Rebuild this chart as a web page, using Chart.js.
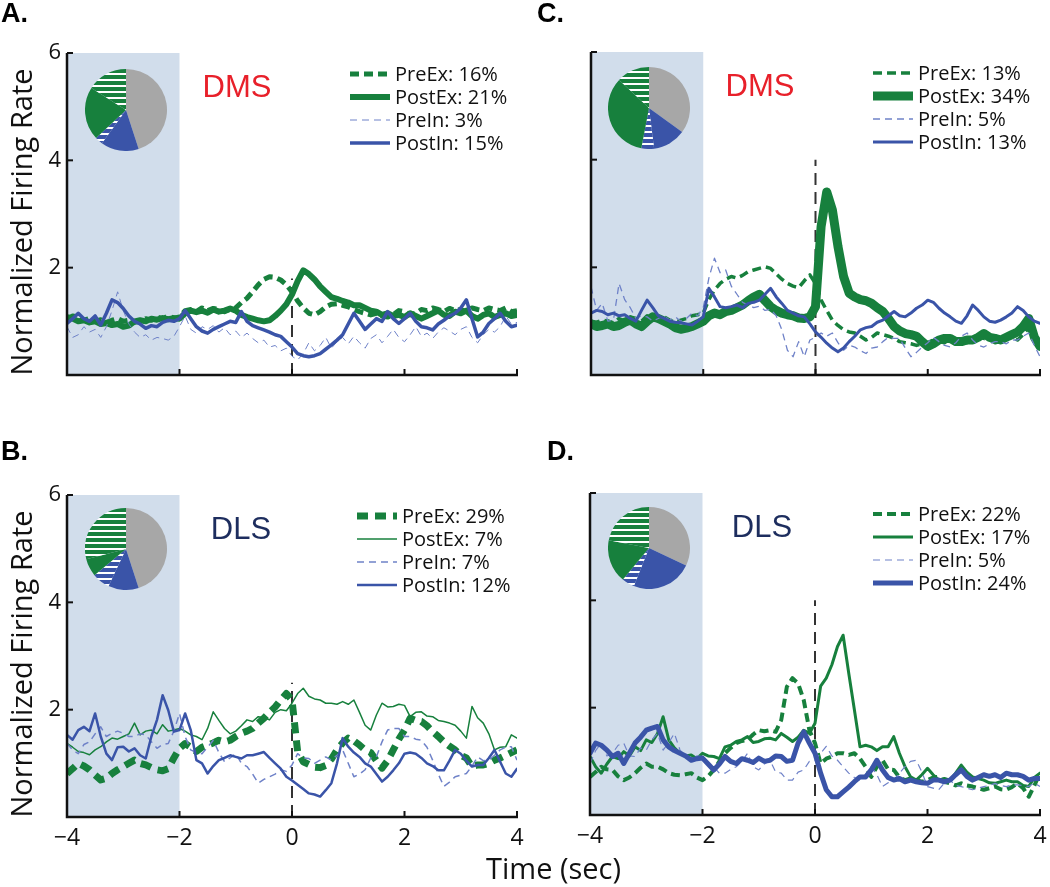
<!DOCTYPE html>
<html>
<head>
<meta charset="utf-8">
<script src="https://cdn.jsdelivr.net/npm/chart.js@4.4.1/dist/chart.umd.min.js"></script>
<style>
  body { margin: 0; background: #fff; width: 1050px; height: 887px; position: relative; overflow: hidden; }
  canvas { position: absolute; }
  .letter { position: absolute; font: bold 27px "Liberation Sans", Arial, sans-serif; color: #000; }
  #xTitle { position: absolute; left: 486px; top: 848px; font: 29px "Open Sans", sans-serif; color: #111; white-space: nowrap; }
</style>
</head>
<body>
<canvas id="chartA" width="525" height="440" style="left:0;top:0"></canvas>
<canvas id="chartC" width="525" height="440" style="left:525px;top:0"></canvas>
<canvas id="chartB" width="525" height="447" style="left:0;top:440px"></canvas>
<canvas id="chartD" width="525" height="447" style="left:525px;top:440px"></canvas>
<canvas id="pieA" width="82" height="82" style="left:85px;top:69px"></canvas>
<canvas id="pieC" width="82" height="82" style="left:608px;top:67px"></canvas>
<canvas id="pieB" width="82" height="82" style="left:85px;top:508px"></canvas>
<canvas id="pieD" width="82" height="82" style="left:608px;top:507px"></canvas>
<div class="letter" style="left:1px;top:-2px">A.</div>
<div class="letter" style="left:537px;top:-2px">C.</div>
<div class="letter" style="left:1px;top:436px">B.</div>
<div class="letter" style="left:547px;top:436px">D.</div>
<div id="xTitle">Time (sec)</div>
<script>
// time bins (sec)
const timeSec = [
  -4.0,-3.9,-3.8,-3.7,-3.6,-3.5,-3.4,-3.3,-3.2,-3.1,
  -3.0,-2.9,-2.8,-2.7,-2.6,-2.5,-2.4,-2.3,-2.2,-2.1,
  -2.0,-1.9,-1.8,-1.7,-1.6,-1.5,-1.4,-1.3,-1.2,-1.1,
  -1.0,-0.9,-0.8,-0.7,-0.6,-0.5,-0.4,-0.3,-0.2,-0.1,
  0.0,0.1,0.2,0.3,0.4,0.5,0.6,0.7,0.8,0.9,
  1.0,1.1,1.2,1.3,1.4,1.5,1.6,1.7,1.8,1.9,
  2.0,2.1,2.2,2.3,2.4,2.5,2.6,2.7,2.8,2.9,
  3.0,3.1,3.2,3.3,3.4,3.5,3.6,3.7,3.8,3.9,
  4.0
];
const seriesNames = ['PreEx', 'PostEx', 'PreIn', 'PostIn'];
const xTicks = [-4, -2, 0, 2, 4];
const yTicks = [0, 2, 4, 6];

// A. DMS
const aPreEx = [
  1.05,1.1,1.08,1.02,1.05,1.0,1.03,0.98,1.02,1.05,
  1.0,1.02,0.98,1.0,1.05,1.02,1.08,1.05,1.1,1.06,
  1.08,1.2,1.22,1.18,1.25,1.2,1.24,1.22,1.18,1.22,
  1.25,1.35,1.43,1.55,1.68,1.78,1.83,1.82,1.77,1.68,
  1.55,1.38,1.25,1.15,1.12,1.18,1.27,1.32,1.33,1.3,
  1.27,1.22,1.18,1.15,1.12,1.15,1.1,1.08,1.12,1.2,
  1.18,1.12,1.15,1.22,1.2,1.25,1.22,1.18,1.24,1.2,
  1.22,1.18,1.25,1.22,1.2,1.25,1.22,1.2,1.25,1.18,
  1.2];
const aPostEx = [
  1.08,1.05,1.0,1.02,0.98,1.0,0.95,0.97,0.93,0.95,
  0.9,0.92,1.0,1.02,1.0,1.05,1.03,1.06,1.04,1.06,
  1.05,1.15,1.2,1.17,1.2,1.16,1.22,1.18,1.2,1.24,
  1.2,1.12,1.08,1.05,1.02,1.0,1.02,1.1,1.2,1.32,
  1.5,1.75,1.95,1.88,1.78,1.65,1.55,1.45,1.42,1.38,
  1.35,1.3,1.3,1.25,1.2,1.18,1.12,1.15,1.1,1.12,
  1.08,1.15,1.1,1.05,1.1,1.15,1.2,1.12,1.1,1.18,
  1.15,1.2,1.1,1.05,1.12,1.15,1.08,1.12,1.15,1.1,
  1.12];
const aPreIn = [
  0.9,0.7,0.75,0.9,0.8,0.85,0.7,0.9,1.2,1.55,
  1.2,0.95,0.8,0.7,0.75,0.65,0.7,0.68,0.65,0.72,
  0.9,1.1,0.85,0.78,0.9,0.85,0.92,0.8,0.88,0.75,
  0.82,0.7,0.78,0.68,0.6,0.65,0.52,0.55,0.45,0.5,
  0.35,0.28,0.4,0.6,0.45,0.55,0.7,0.5,0.62,0.7,
  0.58,0.72,0.6,0.5,0.68,0.75,0.6,0.72,0.85,0.7,
  0.62,0.75,0.9,0.72,0.78,0.68,0.8,0.88,0.82,0.75,
  0.85,0.9,0.7,0.6,0.75,0.85,0.8,0.9,1.1,0.95,
  0.98];
const aPostIn = [
  0.96,1.05,1.15,1.05,1.0,1.1,0.93,1.15,1.4,1.35,
  1.24,1.1,1.0,0.95,0.87,0.92,0.9,0.98,1.02,1.0,
  1.05,1.2,1.05,0.9,0.82,0.78,0.85,0.9,0.95,1.0,
  0.98,1.18,1.0,0.92,0.88,0.84,0.8,0.75,0.72,0.62,
  0.52,0.4,0.36,0.34,0.36,0.4,0.48,0.56,0.65,0.75,
  0.95,1.15,1.0,0.85,0.95,1.05,1.0,1.18,1.05,0.96,
  1.05,1.15,1.0,0.9,0.88,0.84,0.95,1.02,1.1,1.15,
  1.25,1.4,1.05,0.71,0.8,0.96,1.05,1.15,1.0,0.9,
  0.93];
const aPct = [16, 21, 3, 15];
const aOther = 45;

// C. DMS
const cPreEx = [
  1.0,0.98,1.02,1.0,0.97,1.05,1.0,1.08,1.05,1.0,
  1.1,1.05,1.0,1.08,1.02,0.98,1.02,1.05,1.1,1.12,
  1.15,1.4,1.58,1.7,1.78,1.83,1.8,1.85,1.92,1.95,
  1.98,2.01,1.98,1.88,1.78,1.7,1.65,1.62,1.75,1.86,
  1.7,1.39,1.2,1.02,0.92,0.84,0.8,0.78,0.72,0.65,
  0.7,0.78,0.75,0.72,0.68,0.62,0.6,0.58,0.55,0.58,
  0.6,0.65,0.62,0.6,0.65,0.68,0.62,0.6,0.65,0.7,
  0.68,0.65,0.6,0.62,0.68,0.7,0.65,0.75,0.88,0.7,
  0.6];
const cPostEx = [
  0.95,0.9,0.92,0.95,0.9,0.92,0.98,1.02,0.95,0.9,
  1.0,1.08,1.05,1.0,0.95,0.88,0.85,0.87,0.9,0.95,
  1.0,1.1,1.15,1.12,1.18,1.2,1.25,1.3,1.38,1.45,
  1.5,1.38,1.27,1.2,1.15,1.12,1.1,1.06,1.05,1.08,
  1.27,2.76,3.4,3.07,2.39,1.83,1.52,1.45,1.4,1.38,
  1.33,1.25,1.18,1.05,0.9,0.82,0.77,0.75,0.72,0.62,
  0.53,0.58,0.65,0.68,0.68,0.62,0.62,0.65,0.65,0.7,
  0.77,0.7,0.68,0.65,0.7,0.75,0.8,0.9,1.05,0.7,
  0.53];
const cPreIn = [
  1.64,1.2,1.33,1.0,1.02,1.7,1.4,1.25,1.05,1.1,
  1.08,1.0,1.05,1.1,1.02,1.08,1.0,1.05,1.15,1.1,
  1.25,1.8,2.17,1.9,1.95,1.65,1.5,1.35,1.3,1.25,
  1.28,1.2,1.22,1.1,0.84,0.46,0.34,0.62,0.34,0.65,
  0.7,0.78,0.72,0.78,0.6,0.46,0.55,0.52,0.45,0.4,
  0.5,0.52,0.62,0.7,0.68,0.68,0.5,0.34,0.42,0.52,
  0.6,0.7,0.62,0.55,0.52,0.6,0.72,0.78,0.65,0.55,
  0.52,0.58,0.62,0.62,0.58,0.65,0.65,0.72,0.78,0.55,
  0.34];
const cPostIn = [
  1.15,1.2,1.18,1.12,1.15,1.1,1.12,1.05,1.0,1.2,
  1.39,1.25,1.1,1.05,1.0,0.98,0.97,0.95,0.93,1.0,
  1.08,1.61,1.45,1.27,1.25,1.27,1.3,1.25,1.33,1.35,
  1.39,1.5,1.61,1.45,1.33,1.2,1.15,1.1,1.08,0.95,
  0.8,0.7,0.59,0.5,0.43,0.5,0.62,0.72,0.84,0.88,
  0.9,0.98,1.02,1.1,1.18,1.1,1.08,1.15,1.24,1.3,
  1.39,1.35,1.24,1.15,1.08,1.0,0.96,1.1,1.3,1.2,
  1.08,1.0,0.98,1.02,1.08,1.15,1.27,1.2,1.08,1.0,
  0.96];
const cPct = [13, 34, 5, 13];
const cOther = 35;

// B. DLS
const bPreEx = [
  0.81,0.9,1.0,0.95,0.88,0.78,0.69,0.72,0.81,0.88,
  0.94,1.0,1.06,1.0,0.97,0.92,0.88,0.86,0.9,1.1,
  1.28,1.37,1.3,1.22,1.3,1.34,1.38,1.43,1.4,1.43,
  1.5,1.56,1.6,1.65,1.75,1.84,1.95,2.05,2.18,2.3,
  2.18,1.22,1.03,0.98,0.93,0.92,0.96,1.08,1.25,1.38,
  1.47,1.42,1.34,1.25,1.2,1.05,0.91,1.05,1.25,1.45,
  1.62,1.84,1.8,1.78,1.7,1.59,1.5,1.4,1.32,1.25,
  1.15,1.1,0.94,0.97,0.97,1.0,1.06,1.1,1.15,1.2,
  1.25];
const bPostEx = [
  1.37,1.3,1.22,1.2,1.16,1.25,1.31,1.4,1.47,1.45,
  1.5,1.55,1.75,1.53,1.6,1.62,1.55,1.72,1.6,1.62,
  1.65,1.6,1.53,1.5,1.44,1.65,1.96,1.8,1.65,1.55,
  1.6,1.7,1.81,1.78,1.87,1.85,1.81,1.95,2.0,1.98,
  2.12,2.3,2.4,2.25,2.2,2.18,2.12,2.12,2.1,2.15,
  2.1,2.18,1.95,1.71,1.62,1.9,2.12,2.05,2.06,2.1,
  2.08,1.87,1.95,1.96,1.88,1.87,1.8,1.78,1.75,1.71,
  1.6,1.47,2.06,1.85,1.75,1.55,1.25,1.3,1.31,1.53,
  1.47];
const bPreIn = [
  1.37,1.25,1.18,1.35,1.4,1.55,1.68,1.5,1.56,1.6,
  1.56,1.5,1.5,1.55,1.53,1.4,1.28,1.35,1.37,1.6,
  1.93,1.5,1.25,1.2,1.18,1.3,1.43,1.2,1.03,1.1,
  1.18,1.0,0.94,0.8,0.63,0.7,0.75,0.8,0.88,0.85,
  0.97,1.18,1.1,1.09,1.0,1.06,1.12,1.06,1.15,1.25,
  1.0,0.75,0.8,0.88,1.1,1.12,1.4,1.62,1.65,1.65,
  1.5,1.5,1.45,1.43,1.3,1.06,0.8,0.57,0.65,0.75,
  0.78,0.81,0.95,1.12,1.05,1.06,1.15,1.25,1.3,1.31,
  1.06];
const bPostIn = [
  1.53,1.44,1.62,1.68,1.6,1.93,1.5,1.18,1.06,1.3,
  1.31,1.22,1.28,1.15,1.09,1.5,1.81,2.27,1.99,1.59,
  1.62,1.93,1.62,1.06,1.0,0.81,0.95,1.06,1.1,1.15,
  1.12,1.09,1.15,1.15,1.18,1.21,1.1,1.0,0.9,0.75,
  0.68,0.6,0.52,0.44,0.42,0.38,0.5,0.63,1.0,1.47,
  1.31,1.2,1.12,1.0,0.94,0.8,0.66,0.75,0.87,1.0,
  1.18,1.2,1.18,1.1,1.0,0.95,0.87,0.87,1.05,1.25,
  1.18,1.05,0.94,0.97,0.97,1.1,1.25,1.03,0.81,0.75,
  0.9];
const bPct = [29, 7, 7, 12];
const bOther = 45;

// D. DLS
const dPreEx = [
  0.71,0.8,0.9,0.85,0.84,0.72,0.65,0.7,0.78,0.88,
  0.96,0.9,0.9,0.85,0.78,0.75,0.74,0.76,0.78,0.7,
  0.65,0.72,0.84,1.0,1.15,1.25,1.34,1.38,1.4,1.5,
  1.58,1.56,1.58,1.55,1.77,2.39,2.55,2.45,2.14,1.58,
  1.34,0.96,1.05,1.09,1.15,1.15,1.12,1.15,1.05,0.9,
  0.71,0.9,1.02,0.85,0.84,0.7,0.65,0.68,0.65,0.62,
  0.65,0.7,0.71,0.62,0.59,0.55,0.59,0.55,0.53,0.5,
  0.47,0.5,0.53,0.48,0.47,0.52,0.59,0.5,0.34,0.55,
  0.78];
const dPostEx = [
  1.09,0.9,0.78,0.95,1.09,1.05,1.18,1.1,1.27,1.2,
  1.4,1.35,1.52,1.83,1.4,1.25,1.15,1.1,1.12,1.05,
  1.15,1.1,1.09,1.05,1.27,1.3,1.37,1.4,1.46,1.35,
  1.37,1.42,1.43,1.4,1.52,1.45,1.37,1.45,1.58,1.52,
  1.71,2.4,2.55,2.8,3.14,3.35,2.64,1.96,1.27,1.3,
  1.27,1.2,1.27,1.27,1.46,1.15,0.9,0.71,0.65,0.75,
  0.87,0.75,0.65,0.68,0.65,0.78,0.93,0.8,0.71,0.68,
  0.65,0.6,0.59,0.62,0.65,0.62,0.62,0.55,0.53,0.7,
  0.78];
const dPreIn = [
  0.96,1.2,1.34,1.1,1.15,1.3,1.34,1.1,1.09,1.25,
  1.21,1.4,1.52,1.21,1.35,1.52,1.21,1.1,1.02,1.1,
  1.09,0.95,0.9,0.78,0.78,0.85,0.9,1.0,1.15,0.9,
  0.84,0.95,1.02,0.8,0.78,0.65,0.65,0.8,0.84,1.0,
  1.02,1.15,1.28,1.1,1.02,0.9,0.78,0.7,0.65,0.75,
  0.9,0.75,0.53,0.6,0.65,0.78,0.9,1.0,1.02,0.8,
  0.53,0.5,0.47,0.6,0.65,0.55,0.53,0.5,0.47,0.5,
  0.53,0.55,0.59,0.55,0.53,0.56,0.56,0.55,0.53,0.6,
  0.53];
const dPostIn = [
  1.15,1.34,1.3,1.21,1.09,1.15,0.96,1.15,1.34,1.45,
  1.58,1.62,1.65,1.4,1.27,1.2,1.15,1.1,1.02,1.05,
  1.06,0.95,0.84,0.95,1.09,1.0,0.96,1.05,1.02,0.98,
  1.06,1.0,1.02,1.1,1.09,1.0,1.02,1.34,1.55,1.34,
  1.15,0.78,0.47,0.34,0.34,0.43,0.52,0.62,0.71,0.71,
  0.84,1.02,0.84,0.7,0.65,0.68,0.62,0.65,0.62,0.6,
  0.59,0.65,0.65,0.62,0.65,0.75,0.84,0.72,0.65,0.7,
  0.75,0.72,0.75,0.7,0.78,0.75,0.75,0.72,0.65,0.68,
  0.68];
const dPct = [22, 17, 5, 24];
const dOther = 32;

const GREEN = '#17803d';
const BLUE = '#3a54a8';
const BLUE_LIGHT = '#6f82c8';
const GREY = '#a7a7a7';
const SHADE = '#d1ddeb';
const FONT = '"Open Sans", sans-serif';

// draws baseline shading, event line, axes, region label and legend
const panelDecor = {
  id: 'panelDecor',
  beforeDatasetsDraw(chart, args, o) {
    const { ctx, scales: { x, y } } = chart;
    ctx.save();
    ctx.fillStyle = SHADE;
    const x0 = x.getPixelForValue(-4), x1 = x.getPixelForValue(-2);
    const yTop = y.getPixelForValue(6), yBot = y.getPixelForValue(0);
    ctx.fillRect(x0, yTop, x1 - x0, yBot - yTop);
    ctx.strokeStyle = '#333';
    ctx.lineWidth = 2;
    ctx.setLineDash([12, 7]);
    ctx.beginPath();
    ctx.moveTo(x.getPixelForValue(0), yBot);
    ctx.lineTo(x.getPixelForValue(0), y.getPixelForValue(o.eventTop));
    ctx.stroke();
    ctx.restore();
  },
  afterDatasetsDraw(chart) {
    const { ctx, scales: { x, y } } = chart;
    const xl = x.getPixelForValue(-4), xr = x.getPixelForValue(4);
    const yb = y.getPixelForValue(0), yt = y.getPixelForValue(6);
    ctx.save();
    ctx.strokeStyle = '#111';
    ctx.lineWidth = 2.5;
    ctx.beginPath();
    ctx.moveTo(xl, yt); ctx.lineTo(xl, yb); ctx.lineTo(xr + 1, yb);
    ctx.stroke();
    ctx.lineWidth = 2;
    yTicks.forEach(v => {
      const py = y.getPixelForValue(v);
      ctx.beginPath(); ctx.moveTo(xl, py); ctx.lineTo(xl + 6, py); ctx.stroke();
    });
    xTicks.forEach(v => {
      const px = x.getPixelForValue(v);
      ctx.beginPath(); ctx.moveTo(px, yb); ctx.lineTo(px, yb - 6); ctx.stroke();
    });
    ctx.restore();
  },
  afterDraw(chart, args, o) {
    const { ctx, chartArea: a } = chart;
    ctx.save();
    // region label
    ctx.fillStyle = o.regionColor;
    ctx.font = '31px "Liberation Sans", Arial, sans-serif';
    ctx.textAlign = 'center';
    ctx.textBaseline = 'middle';
    ctx.fillText(o.region, a.left + o.regionDx, a.top + 35);
    // legend
    ctx.font = '20px ' + FONT;
    ctx.textAlign = 'left';
    chart.data.datasets.forEach((ds, i) => {
      const ry = a.top + 21 + i * 23;
      const lx = a.left + o.legendDx;
      ctx.strokeStyle = ds.borderColor;
      ctx.lineWidth = ds.borderWidth;
      ctx.setLineDash(ds.borderDash || []);
      ctx.beginPath(); ctx.moveTo(lx, ry); ctx.lineTo(lx + 40, ry); ctx.stroke();
      ctx.fillStyle = '#111';
      ctx.fillText(ds.label + ': ' + o.pct[i] + '%', lx + 45, ry + 1);
    });
    ctx.setLineDash([]);
    // y title
    if (o.yTitle) {
      ctx.translate(32, (a.top + a.bottom) / 2 + 8);
      ctx.rotate(-Math.PI / 2);
      ctx.font = '29px ' + FONT;
      ctx.textAlign = 'center';
      ctx.textBaseline = 'alphabetic';
      ctx.fillStyle = '#111';
      ctx.fillText('Normalized Firing Rate', 0, 0);
    }
    ctx.restore();
  }
};

function makePanel(id, p) {
  const mk = (i, data) => ({
    label: seriesNames[i],
    data: data,
    borderColor: i < 2 ? GREEN : (i === 2 ? BLUE_LIGHT : BLUE),
    borderWidth: p.widths[i],
    borderDash: i === 0 ? p.preExDash : (i === 2 ? [7, 5] : undefined),
    borderCapStyle: (i === 0 || i === 2) ? 'butt' : 'round',
    borderJoinStyle: 'round',
    order: [3, 4, 2, 1][i],
    pointRadius: 0,
    tension: 0,
    fill: false
  });
  new Chart(document.getElementById(id), {
    type: 'line',
    data: {
      labels: timeSec,
      datasets: [mk(0, p.series[0]), mk(1, p.series[1]), mk(2, p.series[2]), mk(3, p.series[3])]
    },
    options: {
      responsive: false,
      animation: false,
      layout: { padding: { top: p.padTop, right: p.padRight, left: 0, bottom: 0 } },
      scales: {
        x: {
          type: 'linear', min: -4, max: 4,
          // fixed axis box; tick labels may overhang the plot edges
          afterFit: (s) => { s.height = p.xH; s.paddingLeft = 0; s.paddingRight = 0; },
          grid: { display: false, drawTicks: false },
          border: { display: false },
          ticks: {
            display: p.showX, stepSize: 2, padding: 8,
            color: '#111', font: { family: FONT, size: 23 },
            callback: (v) => (v < 0 ? '\u2212' + Math.abs(v) : String(v))
          }
        },
        y: {
          min: 0, max: 6,
          afterFit: (s) => { s.width = p.yW; s.paddingTop = 0; s.paddingBottom = 0; },
          grid: { display: false, drawTicks: false },
          border: { display: false },
          ticks: {
            display: p.showY, stepSize: 2, padding: 6,
            color: '#111', font: { family: FONT, size: 22 },
            callback: (v) => (v === 0 ? '' : String(v))
          }
        }
      },
      plugins: {
        legend: { display: false },
        tooltip: { enabled: false },
        panelDecor: {
          region: p.region, regionColor: p.regionColor, regionDx: p.regionDx,
          eventTop: p.eventTop, legendDx: p.legendDx, pct: p.pct, yTitle: p.showY
        }
      }
    },
    plugins: [panelDecor]
  });
}

function hatch(color) {
  const c = document.createElement('canvas');
  c.width = 8; c.height = 6;
  const g = c.getContext('2d');
  g.fillStyle = color; g.fillRect(0, 0, 8, 6);
  g.fillStyle = '#fff'; g.fillRect(0, 4, 8, 2);
  return g.createPattern(c, 'repeat');
}

function makePie(id, pct, other) {
  // clockwise from 12 o'clock: other, PostIn, PreIn, PostEx, PreEx
  new Chart(document.getElementById(id), {
    type: 'pie',
    data: {
      labels: ['Other', 'PostIn', 'PreIn', 'PostEx', 'PreEx'],
      datasets: [{
        data: [other, pct[3], pct[2], pct[1], pct[0]],
        backgroundColor: [GREY, BLUE, hatch(BLUE), GREEN, hatch(GREEN)],
        borderWidth: 0
      }]
    },
    options: {
      responsive: false,
      animation: false,
      layout: { padding: 0 },
      plugins: { legend: { display: false }, tooltip: { enabled: false } }
    }
  });
}

makePanel('chartA', {
  series: [aPreEx, aPostEx, aPreIn, aPostIn], pct: aPct,
  widths: [5, 6, 1, 3.5], preExDash: [9, 5],
  padTop: 53, padRight: 8, yW: 67, xH: 65, showY: true, showX: false,
  region: 'DMS', regionColor: '#e8202a', regionDx: 170, legendDx: 283, eventTop: 1.8
});
makePanel('chartC', {
  series: [cPreEx, cPostEx, cPreIn, cPostIn], pct: cPct,
  widths: [3.5, 9, 1.3, 3], preExDash: [9, 5],
  padTop: 52, padRight: 10, yW: 66, xH: 65, showY: false, showX: false,
  region: 'DMS', regionColor: '#e8202a', regionDx: 169, legendDx: 282, eventTop: 4
});
makePanel('chartB', {
  series: [bPreEx, bPostEx, bPreIn, bPostIn], pct: bPct,
  widths: [7, 1.5, 1.5, 2.5], preExDash: [11, 7],
  padTop: 55, padRight: 8, yW: 67, xH: 70, showY: true, showX: true,
  region: 'DLS', regionColor: '#1d2d5e', regionDx: 174, legendDx: 290, eventTop: 2.5
});
makePanel('chartD', {
  series: [dPreEx, dPostEx, dPreIn, dPostIn], pct: dPct,
  widths: [4, 3, 1.2, 5], preExDash: [9, 5],
  padTop: 53, padRight: 10, yW: 65, xH: 72, showY: false, showX: true,
  region: 'DLS', regionColor: '#1d2d5e', regionDx: 172, legendDx: 283, eventTop: 4
});

makePie('pieA', aPct, aOther);
makePie('pieC', cPct, cOther);
makePie('pieB', bPct, bOther);
makePie('pieD', dPct, dOther);
</script>
</body>
</html>
